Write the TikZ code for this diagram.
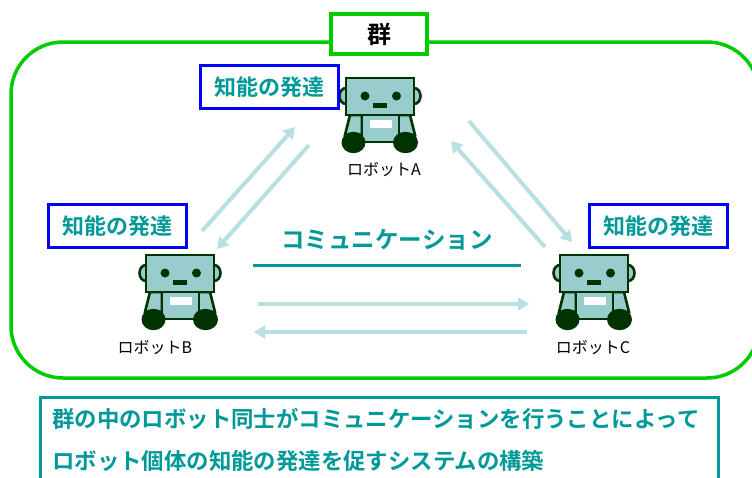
\documentclass[tikz,border=0pt]{standalone}
\usepackage{fontspec}
\newfontfamily\jp{Noto Sans CJK JP}[BoldFont={Noto Sans CJK JP Bold}]
\usetikzlibrary{arrows.meta}

\definecolor{grp}{RGB}{0,204,0}
\definecolor{tealtxt}{RGB}{0,153,153}
\definecolor{flow}{RGB}{184,224,226}
\definecolor{bodyfill}{RGB}{153,204,204}
\definecolor{dark}{RGB}{0,51,0}
\definecolor{boxblue}{RGB}{0,0,255}

\tikzset{
  robotpart/.style={fill=bodyfill, draw=dark, line width=2.6pt, line join=miter},
  robot/.pic={
    % ears behind the head
    \path[robotpart] (-34,18) ellipse [x radius=6.5pt, y radius=8pt];
    \path[robotpart] (34,18) ellipse [x radius=6.5pt, y radius=8pt];
    % arms
    \path[robotpart] (-30,37) -- (-18,37) -- (-18,57) -- (-35,57) -- cycle;
    \path[robotpart] (30,37) -- (18,37) -- (18,57) -- (35,57) -- cycle;
    % body and head
    \path[robotpart] (-18,37) rectangle (19,64);
    \path[robotpart] (-34,0) rectangle (34,37);
    % face
    \fill[dark] (-15,18) circle [radius=4.5pt] (16.5,18) circle [radius=4.5pt];
    \fill[dark] (-7,25) rectangle (7,29.5);
    % chest panel
    \fill[white] (-10,42) rectangle (12,50);
    % wheels
    \fill[dark] (-26.5,64.5) ellipse [x radius=12pt, y radius=10.7pt];
    \fill[dark] (25.5,64.5) ellipse [x radius=12.5pt, y radius=10.7pt];
  },
  flowarrow/.style={draw=flow, line width=4pt,
    -{Triangle[length=11pt, width=13pt]}},
  devbox/.style={draw=boxblue, line width=3pt, fill=white,
    minimum width=138pt, minimum height=43pt, inner sep=0pt,
    text=tealtxt, font=\jp\bfseries\fontsize{22}{24}\selectfont},
  robotlabel/.style={font=\jp\fontsize{16}{18}\selectfont, inner sep=0pt},
  goaltext/.style={anchor=west, inner sep=0pt, text=tealtxt,
    font=\jp\bfseries\fontsize{22.4}{26}\selectfont},
}

\begin{document}
\begin{tikzpicture}[x=1pt, y=-1pt]
  \useasboundingbox (0,0) rectangle (752,477);
  \clip (0,0) rectangle (752,477);
  \fill[white] (0,0) rectangle (752,477);

  % swarm frame
  \draw[grp, line width=3.5pt, rounded corners=52pt] (11,42) rectangle (759,378);
  \node[draw=grp, line width=4pt, fill=white, minimum width=96pt, minimum height=40pt,
        inner sep=0pt, font=\jp\bfseries\fontsize{24}{26}\selectfont] (swarm) at (379,34) {群};

  % robots
  \pic at (380,78) {robot};
  \pic at (180,255) {robot};
  \pic at (594,255) {robot};
  \node[robotlabel] (labA) at (384,170) {ロボットA};
  \node[robotlabel] (labB) at (155,348) {ロボットB};
  \node[robotlabel] (labC) at (593,348) {ロボットC};

  % intelligence development tags
  \node[devbox] (devA) at (269,87) {知能の発達};
  \node[devbox] (devB) at (117,226) {知能の発達};
  \node[devbox] (devC) at (658,226) {知能の発達};

  % communication label and underline
  \node[inner sep=0pt, text=tealtxt, font=\jp\bfseries\fontsize{23.5}{26}\selectfont]
    (comm) at (387,240) {コミュニケーション};
  \coordinate (ulL) at (253,265);
  \coordinate (ulR) at (521,265);
  \draw[tealtxt, line width=3pt] (ulL) -- (ulR);

  % exchanges between robots
  \coordinate (ab1s) at (202,231); \coordinate (ab1e) at (295,127);
  \coordinate (ab2s) at (309,145); \coordinate (ab2e) at (217,249);
  \coordinate (ac1s) at (469,121); \coordinate (ac1e) at (572,242);
  \coordinate (ac2s) at (545,247); \coordinate (ac2e) at (451,141);
  \coordinate (bc1s) at (258,304); \coordinate (bc1e) at (529,304);
  \coordinate (bc2s) at (527,332); \coordinate (bc2e) at (254,332);
  \draw[flowarrow] (ab1s) -- (ab1e);
  \draw[flowarrow] (ab2s) -- (ab2e);
  \draw[flowarrow] (ac1s) -- (ac1e);
  \draw[flowarrow] (ac2s) -- (ac2e);
  \draw[flowarrow] (bc1s) -- (bc1e);
  \draw[flowarrow] (bc2s) -- (bc2e);

  % goal statement
  \draw[tealtxt, line width=3pt] (40,495) -- (40,397) -- (718,397) -- (718,495);
  \node[goaltext] (goal1) at (52,419) {群の中のロボット同士がコミュニケーションを行うことによって};
  \node[goaltext] (goal2) at (52,461) {ロボット個体の知能の発達を促すシステムの構築};
\end{tikzpicture}
\end{document}
